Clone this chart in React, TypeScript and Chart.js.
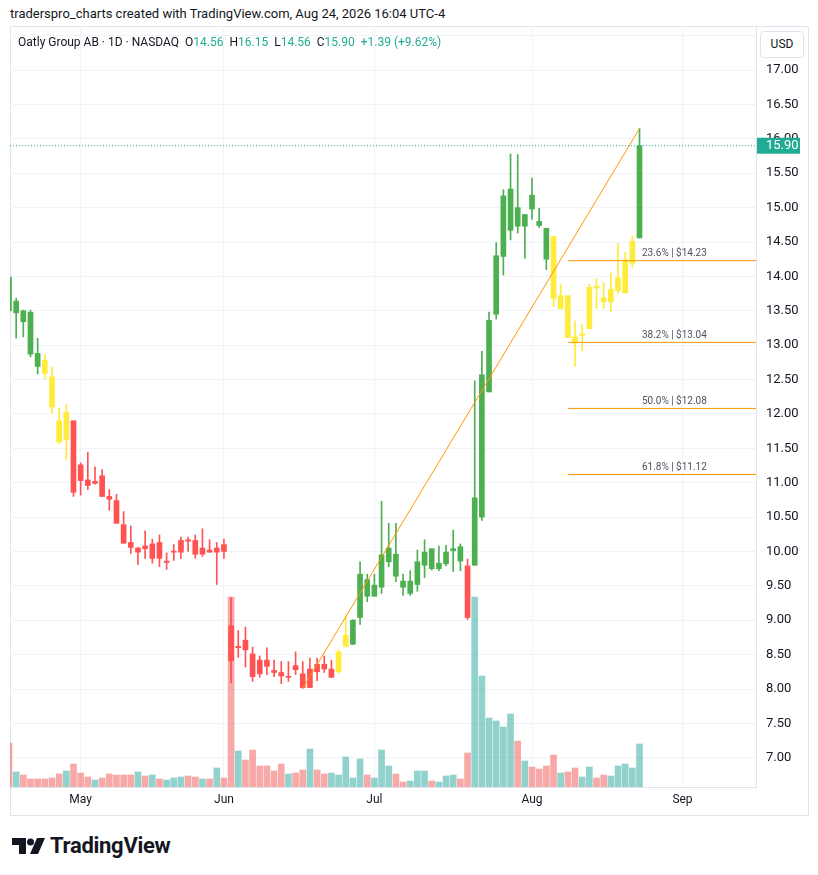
import React, { useEffect, useRef } from "react";
import { Chart, registerables } from "chart.js";

Chart.register(...registerables);

const FONT = "Roboto, 'Noto Sans', sans-serif";

// ---- Daily candles, Oatly Group AB (Apr 17 – Aug 24, 2026) ----
const candleOpen = [
  13.99, 13.47, 13.5, 13.48, 12.88, 12.78, 12.54, 11.9, 11.63, 11.9,
  11.26, 11.04, 10.99, 11.1, 10.8, 10.74, 10.39, 10.13, 9.99, 10.08,
  9.9, 10.13, 9.84, 9.99, 9.99, 10.17, 10.16, 9.96, 10.02, 9.99,
  10.1, 8.92, 8.6, 8.71, 8.51, 8.42, 8.42, 8.27, 8.24, 8.17,
  8.34, 8.22, 8.02, 8.36, 8.36, 8.17, 8.25, 8.62, 8.65, 9.04,
  9.59, 9.35, 9.48, 9.85, 9.96, 9.57, 9.39, 9.52, 9.8, 10.04,
  9.75, 9.82, 10.01, 10.07, 9.79, 9.8, 10.5, 12.32, 13.45, 14.29,
  14.67, 15.0, 14.73, 15.18, 14.8, 14.7, 14.58, 13.53, 13.72, 13.12,
  13.14, 13.24, 13.86, 13.69, 13.63, 13.79, 13.76, 14.19, 14.56,
];
const candleHigh = [
  14.02, 13.68, 13.51, 13.51, 13.1, 12.86, 12.68, 12.09, 12.14, 11.9,
  11.29, 11.44, 11.23, 11.19, 10.9, 10.83, 10.58, 10.37, 10.06, 10.3,
  10.18, 10.24, 9.98, 10.1, 10.21, 10.21, 10.24, 10.33, 10.17, 10.13,
  10.18, 9.33, 8.85, 8.9, 8.61, 8.48, 8.6, 8.42, 8.4, 8.4,
  8.54, 8.4, 8.45, 8.45, 8.48, 8.42, 8.57, 9.07, 9.01, 9.85,
  9.67, 9.67, 10.73, 10.41, 10.41, 9.67, 9.72, 10.02, 10.17, 10.04,
  10.08, 10.09, 10.31, 10.11, 9.89, 12.48, 12.91, 13.48, 14.49, 15.26,
  15.78, 15.77, 14.9, 15.43, 14.99, 14.7, 14.58, 13.88, 13.72, 13.35,
  13.3, 13.89, 13.97, 13.91, 14.05, 14.48, 14.35, 14.59, 16.15,
];
const candleLow = [
  13.48, 13.1, 13.12, 12.83, 12.58, 12.51, 12.01, 11.57, 11.33, 10.8,
  10.82, 10.9, 10.98, 10.8, 10.6, 10.41, 10.12, 9.97, 9.81, 9.9,
  9.83, 9.78, 9.74, 9.87, 9.9, 10.0, 9.9, 9.93, 9.99, 9.52,
  9.9, 8.09, 8.46, 8.32, 8.11, 8.17, 8.21, 8.18, 8.08, 8.11,
  8.21, 8.01, 8.02, 8.12, 8.24, 8.17, 8.23, 8.61, 8.65, 8.94,
  9.27, 9.35, 9.39, 9.78, 9.56, 9.36, 9.36, 9.42, 9.62, 9.73,
  9.72, 9.79, 9.71, 9.72, 9.01, 9.8, 10.45, 12.32, 13.38, 14.02,
  14.53, 14.63, 14.26, 14.83, 14.71, 14.1, 13.56, 13.53, 13.11, 12.69,
  12.92, 13.24, 13.53, 13.53, 13.48, 13.75, 13.76, 14.13, 14.56,
];
const candleClose = [
  13.5, 13.64, 13.34, 12.87, 12.69, 12.59, 12.1, 11.59, 12.02, 10.86,
  11.03, 10.96, 11.02, 10.8, 10.76, 10.41, 10.12, 10.06, 10.05, 10.04,
  10.11, 9.9, 9.86, 10.0, 10.16, 10.15, 9.96, 10.05, 9.99, 10.05,
  10.0, 8.41, 8.62, 8.57, 8.18, 8.22, 8.33, 8.24, 8.19, 8.18,
  8.28, 8.02, 8.29, 8.25, 8.29, 8.29, 8.54, 8.78, 9.0, 9.67,
  9.35, 9.51, 9.95, 10.05, 9.64, 9.48, 9.57, 9.85, 9.99, 9.75,
  9.83, 9.99, 10.04, 9.86, 9.04, 10.78, 12.57, 13.36, 14.3, 15.17,
  15.27, 14.73, 14.9, 14.98, 14.74, 14.25, 13.68, 13.72, 13.11, 13.03,
  13.16, 13.84, 13.83, 13.63, 13.81, 13.98, 14.24, 14.51, 15.9,
];
// trend colouring of each candle: g = green, y = yellow, r = red
const candleTrend = (
  "ggggg" + "yyyy" + "r".repeat(37) + "yy" + "g".repeat(16) + "r" +
  "g".repeat(11) + "y".repeat(12) + "g"
).split("");
// volume (in 10k shares)
const volumes = [
  44, 15, 12, 8, 8, 8, 9, 13, 16, 23,
  14, 10, 7, 9, 13, 12, 12, 12, 15, 11,
  12, 8, 7, 9, 10, 11, 10, 8, 8, 19,
  9, 190, 36, 27, 37, 21, 21, 16, 23, 13,
  14, 17, 38, 17, 13, 14, 12, 30, 9, 28,
  12, 9, 37, 21, 13, 5, 6, 16, 16, 6,
  5, 11, 12, 8, 34, 190, 111, 69, 66, 60,
  73, 46, 26, 20, 18, 21, 32, 14, 15, 19,
  10, 20, 9, 12, 11, 21, 23, 19, 43,
];

const monthTickIndex = [10, 30, 51, 73, 94];
const monthTickLabels = ["May", "Jun", "Jul", "Aug", "Sep"];
const priceTicks = [
  7.0, 7.5, 8.0, 8.5, 9.0, 9.5, 10.0, 10.5, 11.0, 11.5, 12.0,
  12.5, 13.0, 13.5, 14.0, 14.5, 15.0, 15.5, 16.0, 16.5, 17.0, 17.5,
];
const hiddenPriceLabels = [17.5];
const trendStartIndex = 41;
const trendEndIndex = 88;
const fibRatios = [0.236, 0.382, 0.5, 0.618];
const fibStartIndex = 78;
const lastPrice = 15.9;

// ---- layout constants ----
const X_MIN = 0.14;
const X_MAX = 104.26;
const Y_MIN = 6.575;
const Y_MAX = 17.641;
const VOL_MAX = 761;
const FIB_LABEL_INDEX = 97.4;

const CANDLE_COLORS: Record<string, string> = { g: "#4caf50", y: "#ffeb3b", r: "#ff5252" };
const VOL_UP = "rgba(38,166,154,0.5)";
const VOL_DOWN = "rgba(239,83,80,0.5)";
const TEAL = "#22ab94";
const ORANGE = "#ff9800";
const GRID = "#f0f3fa";
const BORDER = "#e0e3eb";
const TEXT = "#131722";

export default function App() {
  const canvasRef = useRef<HTMLCanvasElement>(null);

  useEffect(() => {
    document.body.style.margin = "0";
    const canvas = canvasRef.current;
    if (!canvas) return;

    const idx = candleOpen.map((_, i) => i);
    const colors = candleTrend.map((t) => CANDLE_COLORS[t]);
    const volColors = idx.map((i) => (candleClose[i] >= candleOpen[i] ? VOL_UP : VOL_DOWN));
    const swingLow = candleLow[trendStartIndex];
    const swingHigh = candleHigh[trendEndIndex];
    const fibLevels = fibRatios.map((r) => swingHigh - r * (swingHigh - swingLow));

    const overlay = {
      id: "overlay",
      afterDatasetsDraw(chart: any) {
        const { ctx, scales } = chart;
        const x = scales.x;
        const y = scales.y;
        ctx.save();
        ctx.font = `10px ${FONT}`;
        ctx.fillStyle = "#50535e";
        ctx.textAlign = "right";
        ctx.textBaseline = "bottom";
        fibLevels.forEach((lvl, k) => {
          ctx.fillText(
            `${(fibRatios[k] * 100).toFixed(1)}% | $${lvl.toFixed(2)}`,
            x.getPixelForValue(FIB_LABEL_INDEX),
            y.getPixelForValue(lvl) - 2
          );
        });
        ctx.restore();
      },
      afterDraw(chart: any) {
        const { ctx, chartArea, scales } = chart;
        const py = scales.y.getPixelForValue(lastPrice);
        ctx.save();
        ctx.fillStyle = TEAL;
        ctx.fillRect(chartArea.right + 1, py - 8, 43, 16);
        ctx.fillStyle = "#ffffff";
        ctx.font = `13px ${FONT}`;
        ctx.textAlign = "left";
        ctx.textBaseline = "middle";
        ctx.fillText(lastPrice.toFixed(2), chartArea.right + 10, py + 0.5);
        ctx.restore();
      },
    };

    const chart = new Chart(canvas, {
      type: "bar",
      data: {
        datasets: [
          {
            type: "line",
            data: [
              { x: trendStartIndex, y: swingLow },
              { x: trendEndIndex, y: swingHigh },
            ],
            borderColor: ORANGE,
            borderWidth: 1,
            pointRadius: 0,
            order: 0,
            yAxisID: "y",
          } as any,
          ...fibLevels.map(
            (lvl) =>
              ({
                type: "line",
                data: [
                  { x: fibStartIndex, y: lvl },
                  { x: X_MAX, y: lvl },
                ],
                borderColor: ORANGE,
                borderWidth: 1,
                pointRadius: 0,
                order: 0,
                yAxisID: "y",
              } as any)
          ),
          {
            type: "line",
            data: [
              { x: X_MIN, y: lastPrice },
              { x: X_MAX, y: lastPrice },
            ],
            borderColor: TEAL,
            borderWidth: 1,
            borderDash: [1, 2],
            pointRadius: 0,
            order: 0,
            yAxisID: "y",
          } as any,
          {
            type: "bar",
            data: idx.map((i) => ({ x: i, y: [candleOpen[i], candleClose[i]] })),
            backgroundColor: colors,
            borderWidth: 0,
            barThickness: 5,
            minBarLength: 1,
            grouped: false,
            order: 1,
            yAxisID: "y",
          } as any,
          {
            type: "bar",
            data: idx.map((i) => ({ x: i, y: [candleLow[i], candleHigh[i]] })),
            backgroundColor: colors,
            borderWidth: 0,
            barThickness: 1,
            grouped: false,
            order: 2,
            yAxisID: "y",
          } as any,
          {
            type: "bar",
            data: idx.map((i) => ({ x: i, y: volumes[i] })),
            backgroundColor: volColors,
            borderWidth: 0,
            barThickness: 6,
            grouped: false,
            order: 3,
            yAxisID: "yv",
          } as any,
        ],
      },
      options: {
        responsive: false,
        animation: false,
        layout: { padding: 0 },
        plugins: { legend: { display: false }, tooltip: { enabled: false } },
        scales: {
          x: {
            type: "linear",
            min: X_MIN,
            max: X_MAX,
            offset: false,
            grid: { color: GRID, drawTicks: false, offset: false },
            border: { display: true, color: BORDER },
            afterBuildTicks: (axis: any) => {
              axis.ticks = monthTickIndex.map((v) => ({ value: v }));
            },
            afterFit: (axis: any) => {
              axis.height = 28;
              axis.paddingLeft = 0;
              axis.paddingRight = 0;
            },
            ticks: {
              autoSkip: false,
              maxRotation: 0,
              padding: 6,
              color: TEXT,
              font: { family: FONT, size: 12 },
              callback: (v: any) => {
                const k = monthTickIndex.indexOf(Number(v));
                return k >= 0 ? monthTickLabels[k] : "";
              },
            },
          },
          y: {
            type: "linear",
            position: "right",
            min: Y_MIN,
            max: Y_MAX,
            grid: { color: GRID, drawTicks: false },
            border: { display: true, color: BORDER },
            afterBuildTicks: (axis: any) => {
              axis.ticks = priceTicks.map((v) => ({ value: v }));
            },
            afterFit: (axis: any) => {
              axis.width = 52;
              axis.paddingTop = 0;
              axis.paddingBottom = 0;
            },
            ticks: {
              padding: 10,
              color: TEXT,
              font: { family: FONT, size: 13 },
              callback: (v: any) =>
                hiddenPriceLabels.includes(Number(v)) ? "" : Number(v).toFixed(2),
            },
          },
          yv: {
            type: "linear",
            display: false,
            min: 0,
            max: VOL_MAX,
          },
        },
      } as any,
      plugins: [overlay],
    });

    return () => chart.destroy();
  }, []);

  const teal = { color: TEAL };
  return (
    <div
      style={{
        position: "relative",
        width: 818,
        height: 875,
        background: "#ffffff",
        fontFamily: FONT,
        color: TEXT,
        overflow: "hidden",
      }}
    >
      <div style={{ position: "absolute", left: 10, top: 6, fontSize: 13, whiteSpace: "nowrap" }}>
        traderspro_charts created with TradingView.com, Aug 24, 2026 16:04 UTC-4
      </div>
      <div
        style={{
          position: "absolute",
          left: 10,
          top: 26,
          width: 797,
          height: 788,
          border: `1px solid ${BORDER}`,
        }}
      />
      <canvas
        ref={canvasRef}
        width={798}
        height={789}
        style={{ position: "absolute", left: 10, top: 26, width: 798, height: 789 }}
      />
      <div style={{ position: "absolute", left: 18, top: 35, fontSize: 12, whiteSpace: "nowrap" }}>
        <span>Oatly Group AB · 1D · NASDAQ</span>
        <span style={{ marginLeft: 6 }}>O</span>
        <span style={teal}>14.56</span>
        <span style={{ marginLeft: 6 }}>H</span>
        <span style={teal}>16.15</span>
        <span style={{ marginLeft: 6 }}>L</span>
        <span style={teal}>14.56</span>
        <span style={{ marginLeft: 6 }}>C</span>
        <span style={teal}>15.90</span>
        <span style={{ ...teal, marginLeft: 6 }}>+1.39 (+9.62%)</span>
      </div>
      <div
        style={{
          position: "absolute",
          left: 760,
          top: 31,
          width: 42,
          height: 25,
          border: `1px solid ${BORDER}`,
          borderRadius: 4,
          background: "#ffffff",
          fontSize: 12,
          lineHeight: "25px",
          textAlign: "center",
        }}
      >
        USD
      </div>
      <div style={{ position: "absolute", left: 12, top: 833, display: "flex", alignItems: "center" }}>
        <svg width="34" height="18" viewBox="0 0 34 18">
          <path d="M0 1 H14 V17 H7 V8 H0 Z" fill={TEXT} />
          <circle cx="18.5" cy="5" r="3.5" fill={TEXT} />
          <path d="M25 1 H33 L26 17 H18 Z" fill={TEXT} />
        </svg>
        <span style={{ marginLeft: 4, fontSize: 22, fontWeight: 700, letterSpacing: -0.3 }}>
          TradingView
        </span>
      </div>
    </div>
  );
}
